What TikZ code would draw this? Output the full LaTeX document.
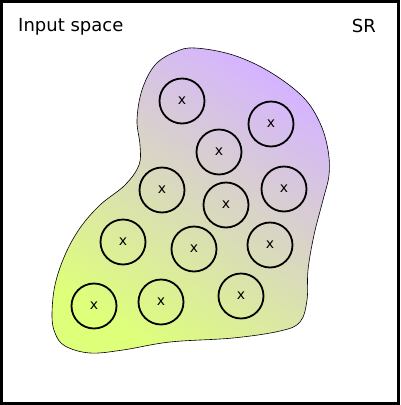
\documentclass[tikz,border=0pt]{standalone}
\usepackage{fontspec}
\setmainfont{DejaVu Sans}
\usepackage{xcolor}
\usepackage{tikz}
\usetikzlibrary{positioning}
\definecolor{blobtop}{RGB}{213,180,255}
\definecolor{blobbottom}{RGB}{222,255,122}
\newlength{\Radius}
\setlength\Radius{45pt}

\begin{document}
\begin{tikzpicture}[
    x = 1pt, y = -1pt,
    frame/.style = {
      draw, line width = 3pt
    },
    region/.style = {
      draw, line width = 0.6pt,
      top color = blobtop, bottom color = blobbottom, shading angle = -33
    },
    sample/.style = {
      circle, draw, line width = 1.8pt, inner sep = 0pt,
      minimum size = \Radius, font = \fontsize{14}{14}\selectfont
    },
    label/.style = {
      inner sep = 0pt, font = \fontsize{18}{18}\selectfont
    },
    ]

    \useasboundingbox (0,0) rectangle (400,405);

    % draw frame and labels
    \draw  [frame]  (1.5,1.5) rectangle (398.5,403.5);
    \node  [label, anchor = base west]  (space)  at (18,31)  {Input space};
    \node  [label, anchor = base east]  (sr)  at (376,32)  {SR};

    % draw region
    \path  [region]  plot [smooth cycle, tension = 0.6] coordinates {
      (195,48) (233,55) (270,72) (303,97) (320,123) (328,150) (329,175)
      (323,200) (314,235) (308,270) (307,300) (300,322) (280,331)
      (233,338) (170,342) (123,350) (90,353) (65,346) (55,333) (52,315)
      (55,285) (65,255) (80,228) (100,205) (125,185) (139,165) (140,145)
      (137,120) (142,90) (155,65) (175,52)
    };

    % draw samples
    \foreach \px/\py [count = \i] in {182/101, 271/124, 219/152, 162/190,
      226/205, 284/189, 123/242, 194/249, 270/245, 94/306, 161/302, 241/296}
    \node  [sample]  (s\i)  at (\px,\py)  {x};

\end{tikzpicture}
\end{document}
